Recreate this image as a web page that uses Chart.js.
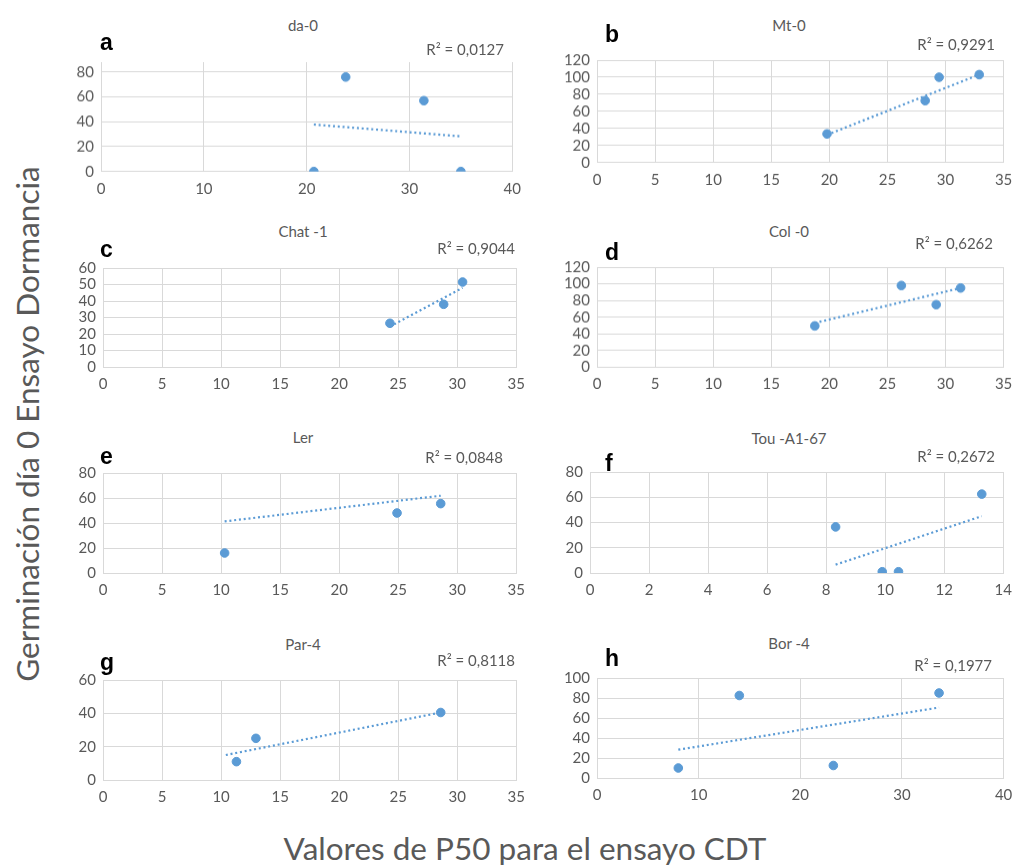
<!DOCTYPE html>
<html>
<head>
<meta charset="utf-8">
<script src="https://cdn.jsdelivr.net/npm/chart.js@4.4.1/dist/chart.umd.min.js"></script>
<style>
  html, body { margin: 0; padding: 0; background: #fff; }
  #page { position: relative; width: 1015px; height: 865px; overflow: hidden; font-family: Lato, "Open Sans", sans-serif; }
  .panel { position: absolute; }
  .txt { position: absolute; white-space: nowrap; color: #595959; }
  .title { font-size: 15px; transform: translate(-50%, -50%); }
  .letter { font-size: 23px; font-weight: bold; color: #000; transform: translate(0, -50%); font-family: "Liberation Sans", Arial, sans-serif; }
  .r2 { font-size: 15px; transform: translate(-100%, -50%); }
  .axisTitle { font-size: 31.5px; color: #595959; }
</style>
</head>
<body>
<div id="page"></div>
<script>
// Accession names, panel letters and fit labels
const accessions = ['da-0', 'Mt-0', 'Chat -1', 'Col -0', 'Ler', 'Tou -A1-67', 'Par-4', 'Bor -4'];
const panelLetters = ['a', 'b', 'c', 'd', 'e', 'f', 'g', 'h'];
const r2Labels = ['R² = 0,0127', 'R² = 0,9291', 'R² = 0,9044', 'R² = 0,6262',
                  'R² = 0,0848', 'R² = 0,2672', 'R² = 0,8118', 'R² = 0,1977'];

// P50 values (CDT assay) and day-0 germination for each accession
const p50_da0  = [20.7, 23.8, 31.4, 35.0];
const germ_da0 = [0, 76, 57, 0];
const p50_mt0  = [19.8, 28.25, 29.45, 32.9];
const germ_mt0 = [33.5, 72.5, 100, 103];
const p50_chat1  = [24.3, 28.85, 30.45];
const germ_chat1 = [26.5, 38, 51.5];
const p50_col0  = [18.75, 26.2, 29.2, 31.3];
const germ_col0 = [49.5, 98, 75, 95];
const p50_ler  = [10.3, 24.9, 28.6];
const germ_ler = [16, 48, 55.5];
const p50_tou  = [8.32, 9.9, 10.45, 13.27];
const germ_tou = [36.5, 1, 1, 62.5];
const p50_par4  = [11.3, 12.95, 28.6];
const germ_par4 = [11, 25, 40.5];
const p50_bor4  = [8.0, 14.0, 23.25, 33.65];
const germ_bor4 = [10, 82.5, 12.5, 85];

// Linear trend lines: start and end of each fitted line [x0, y0, x1, y1]
const trend_da0   = [20.7, 37.8, 35.0, 28.3];
const trend_mt0   = [19.8, 32.5, 32.9, 103];
const trend_chat1 = [24.3, 24.5, 30.45, 48];
const trend_col0  = [18.75, 53, 31.3, 95];
const trend_ler   = [10.3, 41.3, 28.6, 61.8];
const trend_tou   = [8.32, 6.6, 13.27, 45];
const trend_par4  = [10.4, 15, 28.6, 40.5];
const trend_bor4  = [8.0, 28.3, 33.65, 70.5];

const p50Series   = [p50_da0, p50_mt0, p50_chat1, p50_col0, p50_ler, p50_tou, p50_par4, p50_bor4];
const germSeries  = [germ_da0, germ_mt0, germ_chat1, germ_col0, germ_ler, germ_tou, germ_par4, germ_bor4];
const trendSeries = [trend_da0, trend_mt0, trend_chat1, trend_col0, trend_ler, trend_tou, trend_par4, trend_bor4];

// Axis ranges and tick steps
const xMaxes  = [40, 35, 35, 35, 35, 14, 35, 40];
const xSteps  = [10, 5, 5, 5, 5, 2, 5, 10];
const yMaxes  = [88, 120, 60, 120, 80, 80, 60, 100];
const ySteps  = [20, 20, 10, 20, 20, 20, 20, 20];

const axisTitleY = 'Germinación día 0 Ensayo Dormancia';
const axisTitleX = 'Valores de P50 para el ensayo CDT';

// Plot-area boxes [left, top, right, bottom] on the page
const plotBoxes = [
  [100.7, 62, 512, 170.7],
  [596.7, 60, 1003.3, 161.7],
  [102.7, 268.3, 516, 367.3],
  [596.7, 267.3, 1003.3, 366.7],
  [102.7, 473.3, 516, 573.3],
  [590, 472.3, 1003.3, 573.3],
  [102.7, 680, 516, 780],
  [596.7, 678.3, 1003.3, 778.3]
];
// Text anchors: title centre, letter left/centre, R² right/centre
const titlePos  = [[303, 25], [789, 25], [303, 231], [789, 231], [303, 437], [789, 438], [303, 644], [789, 643]];
const letterPos = [[100, 42], [605, 34], [100, 249], [605, 252], [100, 456], [605, 463], [100, 662], [605, 658]];
const r2Pos     = [[504, 49], [995, 44], [515, 248], [993, 243], [503, 457], [995, 456], [515, 660], [992, 665]];

const BLUE = '#5b9bd5';
const GRID = '#d9d9d9';
const TEXT = '#595959';
const FONT = 'Lato, "Open Sans", sans-serif';

const page = document.getElementById('page');

function addText(cls, text, x, y) {
  const d = document.createElement('div');
  d.className = 'txt ' + cls;
  d.textContent = text;
  d.style.left = x + 'px';
  d.style.top = y + 'px';
  page.appendChild(d);
  return d;
}

const Y_AXIS_W = 45, X_AXIS_H = 30, PAD_TOP = 10, PAD_RIGHT = 14;

accessions.forEach((name, i) => {
  const [L, T, R, B] = plotBoxes[i];
  let bx = L - Y_AXIS_W, by = T - PAD_TOP;
  let w = (R - L) + Y_AXIS_W + PAD_RIGHT;
  let h = (B - T) + PAD_TOP + X_AXIS_H;
  const box = document.createElement('div');
  box.className = 'panel';
  const place = () => {
    box.style.left = bx + 'px';
    box.style.top = by + 'px';
    box.style.width = w + 'px';
    box.style.height = h + 'px';
  };
  place();
  const cv = document.createElement('canvas');
  box.appendChild(cv);
  page.appendChild(box);

  const pts = p50Series[i].map((x, k) => ({ x: x, y: germSeries[i][k] }));
  const t = trendSeries[i];
  const step = ySteps[i];
  const yMax = yMaxes[i];

  const chart = new Chart(cv, {
    type: 'scatter',
    data: {
      datasets: [
        {
          data: pts,
          backgroundColor: BLUE,
          borderColor: BLUE,
          pointRadius: 4.3,
          pointHoverRadius: 4.3,
          order: 1
        },
        {
          type: 'line',
          data: [{ x: t[0], y: t[1] }, { x: t[2], y: t[3] }],
          borderColor: BLUE,
          borderWidth: 2.2,
          borderDash: [2, 2.8],
          pointRadius: 0,
          fill: false,
          order: 2
        }
      ]
    },
    options: {
      responsive: true,
      maintainAspectRatio: false,
      animation: false,
      events: [],
      layout: { padding: { top: PAD_TOP, right: PAD_RIGHT, bottom: 0, left: 0 } },
      plugins: { legend: { display: false }, tooltip: { enabled: false } },
      scales: {
        x: {
          type: 'linear',
          min: 0,
          max: xMaxes[i],
          ticks: { stepSize: xSteps[i], autoSkip: false, color: TEXT, font: { family: FONT, size: 15 }, padding: 8, maxRotation: 0 },
          grid: { color: GRID, lineWidth: 1, drawTicks: false },
          border: { color: GRID, width: 1 },
          afterFit: (s) => { s.height = X_AXIS_H; }
        },
        y: {
          type: 'linear',
          min: 0,
          max: yMax,
          ticks: { stepSize: step, autoSkip: false, color: TEXT, font: { family: FONT, size: 15 }, padding: 7 },
          grid: { color: GRID, lineWidth: 1, drawTicks: false },
          border: { color: GRID, width: 1 },
          // Only whole steps carry a tick and grid line
          afterBuildTicks: (s) => {
            const ticks = [];
            for (let v = 0; v <= yMax + 1e-9; v += step) ticks.push({ value: v });
            s.ticks = ticks;
          },
          afterFit: (s) => { s.width = Y_AXIS_W; }
        }
      }
    }
  });

  // Nudge the canvas so the plot area lands on its box
  for (let it = 0; it < 3; it++) {
    const a = chart.chartArea;
    const dl = (bx + a.left) - L, dt = (by + a.top) - T;
    const dw = (R - L) - (a.right - a.left), dh = (B - T) - (a.bottom - a.top);
    if (Math.abs(dl) < 0.3 && Math.abs(dt) < 0.3 && Math.abs(dw) < 0.3 && Math.abs(dh) < 0.3) break;
    bx -= dl; by -= dt; w += dw; h += dh;
    place();
    chart.resize(w, h);
  }

  addText('title', name, titlePos[i][0], titlePos[i][1]);
  addText('letter', panelLetters[i], letterPos[i][0], letterPos[i][1]);
  addText('r2', r2Labels[i], r2Pos[i][0], r2Pos[i][1]);
});

// Shared axis titles
const yt = addText('axisTitle', axisTitleY, 27, 424);
yt.style.transform = 'translate(-50%, -50%) rotate(-90deg)';
const xt = addText('axisTitle', axisTitleX, 525, 848);
xt.style.transform = 'translate(-50%, -50%)';
</script>
</body>
</html>
